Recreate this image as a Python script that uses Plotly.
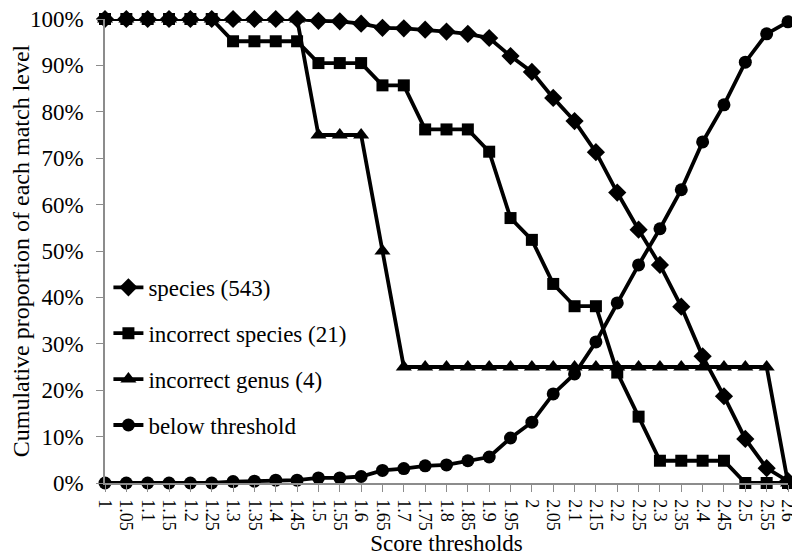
import plotly.graph_objects as go

thresholds = ["1", "1.05", "1.1", "1.15", "1.2", "1.25", "1.3", "1.35", "1.4", "1.45",
              "1.5", "1.55", "1.6", "1.65", "1.7", "1.75", "1.8", "1.85", "1.9", "1.95",
              "2", "2.05", "2.1", "2.15", "2.2", "2.25", "2.3", "2.35", "2.4", "2.45",
              "2.5", "2.55", "2.6"]

species = [100, 100, 100, 100, 100, 100, 100, 100, 100, 100,
           99.6, 99.5, 99.0, 98.1, 98.0, 97.7, 97.3, 96.8, 95.9, 92.0,
           88.6, 83.0, 78.0, 71.3, 62.6, 54.6, 47.0, 38.0, 27.3, 18.7,
           9.5, 3.2, 0.4]

incorrect_species = [100, 100, 100, 100, 100, 100, 95.2, 95.2, 95.2, 95.2,
                     90.5, 90.5, 90.5, 85.7, 85.7, 76.2, 76.2, 76.2, 71.4, 57.1,
                     52.4, 42.9, 38.1, 38.1, 23.8, 14.3, 4.8, 4.8, 4.8, 4.8,
                     0, 0, 0]

incorrect_genus = [100, 100, 100, 100, 100, 100, 100, 100, 100, 100,
                   75, 75, 75, 50, 25, 25, 25, 25, 25, 25,
                   25, 25, 25, 25, 25, 25, 25, 25, 25, 25,
                   25, 25, 0]

below_threshold = [0, 0, 0, 0, 0, 0, 0.3, 0.4, 0.6, 0.6,
                   1.1, 1.1, 1.4, 2.7, 3.1, 3.7, 3.9, 4.8, 5.6, 9.7,
                   13.1, 19.2, 23.5, 30.4, 38.8, 47.0, 54.8, 63.2, 73.5, 81.5,
                   90.7, 96.8, 99.4]

y_ticks = [0, 10, 20, 30, 40, 50, 60, 70, 80, 90, 100]
y_tick_text = [f"{v}%" for v in y_ticks]

FONT = "Liberation Serif"

series = [
    ("species (543)", species, "diamond", 14),
    ("incorrect species (21)", incorrect_species, "square", 12),
    ("incorrect genus (4)", incorrect_genus, "triangle-up", 14),
    ("below threshold", below_threshold, "circle", 13),
]

fig = go.Figure()
for i, (name, vals, sym, size) in enumerate(series):
    fig.add_trace(go.Scatter(
        x=list(range(len(thresholds))), y=vals, name=name, mode="lines+markers",
        line=dict(color="black", width=3.8),
        marker=dict(symbol=sym, size=size, color="black"),
        cliponaxis=False, legendgroup=f"g{i}",
    ))

fig.update_layout(
    width=800, height=560,
    margin=dict(l=97, r=20, t=11, b=85),
    paper_bgcolor="white", plot_bgcolor="white",
    font=dict(family=FONT, color="black", size=20),
    legend=dict(x=0.005, y=0.468, xanchor="left", yanchor="top",
                font=dict(size=23, family=FONT), bgcolor="rgba(0,0,0,0)",
                traceorder="grouped", tracegroupgap=13, itemwidth=30),
    showlegend=True,
)

fig.update_xaxes(
    range=[0, len(thresholds) - 1],
    tickmode="array", tickvals=list(range(len(thresholds))), ticktext=thresholds,
    tickangle=90, tickfont=dict(size=18, family=FONT),
    ticks="outside", ticklen=7, tickcolor="#8c8c8c", ticklabelstandoff=4,
    showline=True, linecolor="#8c8c8c", linewidth=1.5,
    showgrid=False, zeroline=False, automargin=False, ticklabeloverflow="allow",
    title=dict(text="Score thresholds", font=dict(size=23, family=FONT), standoff=5),
)
fig.update_yaxes(
    range=[0, 100], tickmode="array", tickvals=y_ticks, ticktext=y_tick_text,
    tickfont=dict(size=23, family=FONT),
    ticks="outside", ticklen=7, tickcolor="#8c8c8c", ticklabelstandoff=8,
    showline=True, linecolor="#8c8c8c", linewidth=1.5,
    showgrid=False, zeroline=False, automargin=False, ticklabeloverflow="allow",
    title=dict(text="Cumulative proportion of each match level",
               font=dict(size=24, family=FONT), standoff=1),
)

fig.write_html("out.html")
